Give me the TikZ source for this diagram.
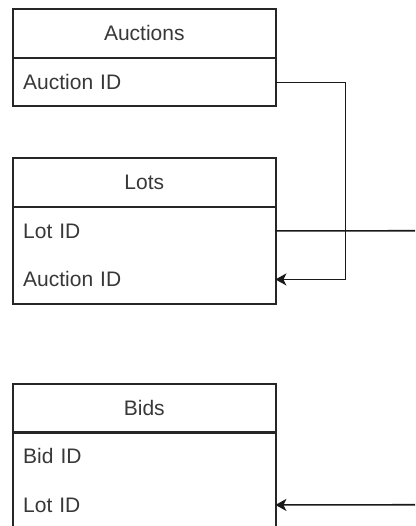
\documentclass[tikz,border=0pt]{standalone}
\usepackage{fontspec}
\setmainfont{Liberation Sans}
\usetikzlibrary{arrows.meta}
\tikzset{
  tbl/.style={draw=black!85, line width=1.6pt, rectangle, inner sep=0pt, anchor=north west, minimum width=263pt},
  hdr/.style={tbl, minimum height=49pt, text=black!78, font=\fontsize{21}{24}\selectfont},
  row/.style={rectangle, anchor=north west, inner xsep=11pt, inner ysep=0pt, text width=241pt, align=left, minimum height=48.5pt, text=black!78, font=\fontsize{21}{24}\selectfont},
  link/.style={draw=black!90, line width=1.6pt},
  arr/.style={link, -{Stealth[length=11pt, width=12pt, inset=3pt]}}
}
\begin{document}
\begin{tikzpicture}[x=1pt, y=-1pt]
\useasboundingbox (0,0) rectangle (415,526);
\clip (0,0) rectangle (415,526);
\fill[white] (0,0) rectangle (415,526);
% Auctions
\node[tbl, minimum height=48pt] (aucbody) at (12,57) {};
\node[hdr] (auchdr) at (12,8) {Auctions};
\node[row] (aucid) at (12,58) {Auction ID};
% Lots
\node[tbl, minimum height=97pt] (lotbody) at (12,206) {};
\node[hdr] (lothdr) at (12,157) {Lots};
\node[row] (lotid) at (12,206.5) {Lot ID};
\node[row] (lotaucid) at (12,255) {Auction ID};
% Bids
\node[tbl, minimum height=130pt] (bidbody) at (12,431) {};
\node[hdr] (bidhdr) at (12,383) {Bids};
\node[row] (bidid) at (12,431.5) {Bid ID};
\node[row] (bidlotid) at (12,480.5) {Lot ID};
% free ends
\coordinate (lotout) at (425,230.75);
\coordinate (bidin) at (425,504.75);
% connectors
\draw[arr] (aucid.east) -- ++(70,0) |- (lotaucid.east);
\draw[link] (lotid.east) -- (lotout);
\draw[arr] (bidin) -- (bidlotid.east);
\end{tikzpicture}
\end{document}
